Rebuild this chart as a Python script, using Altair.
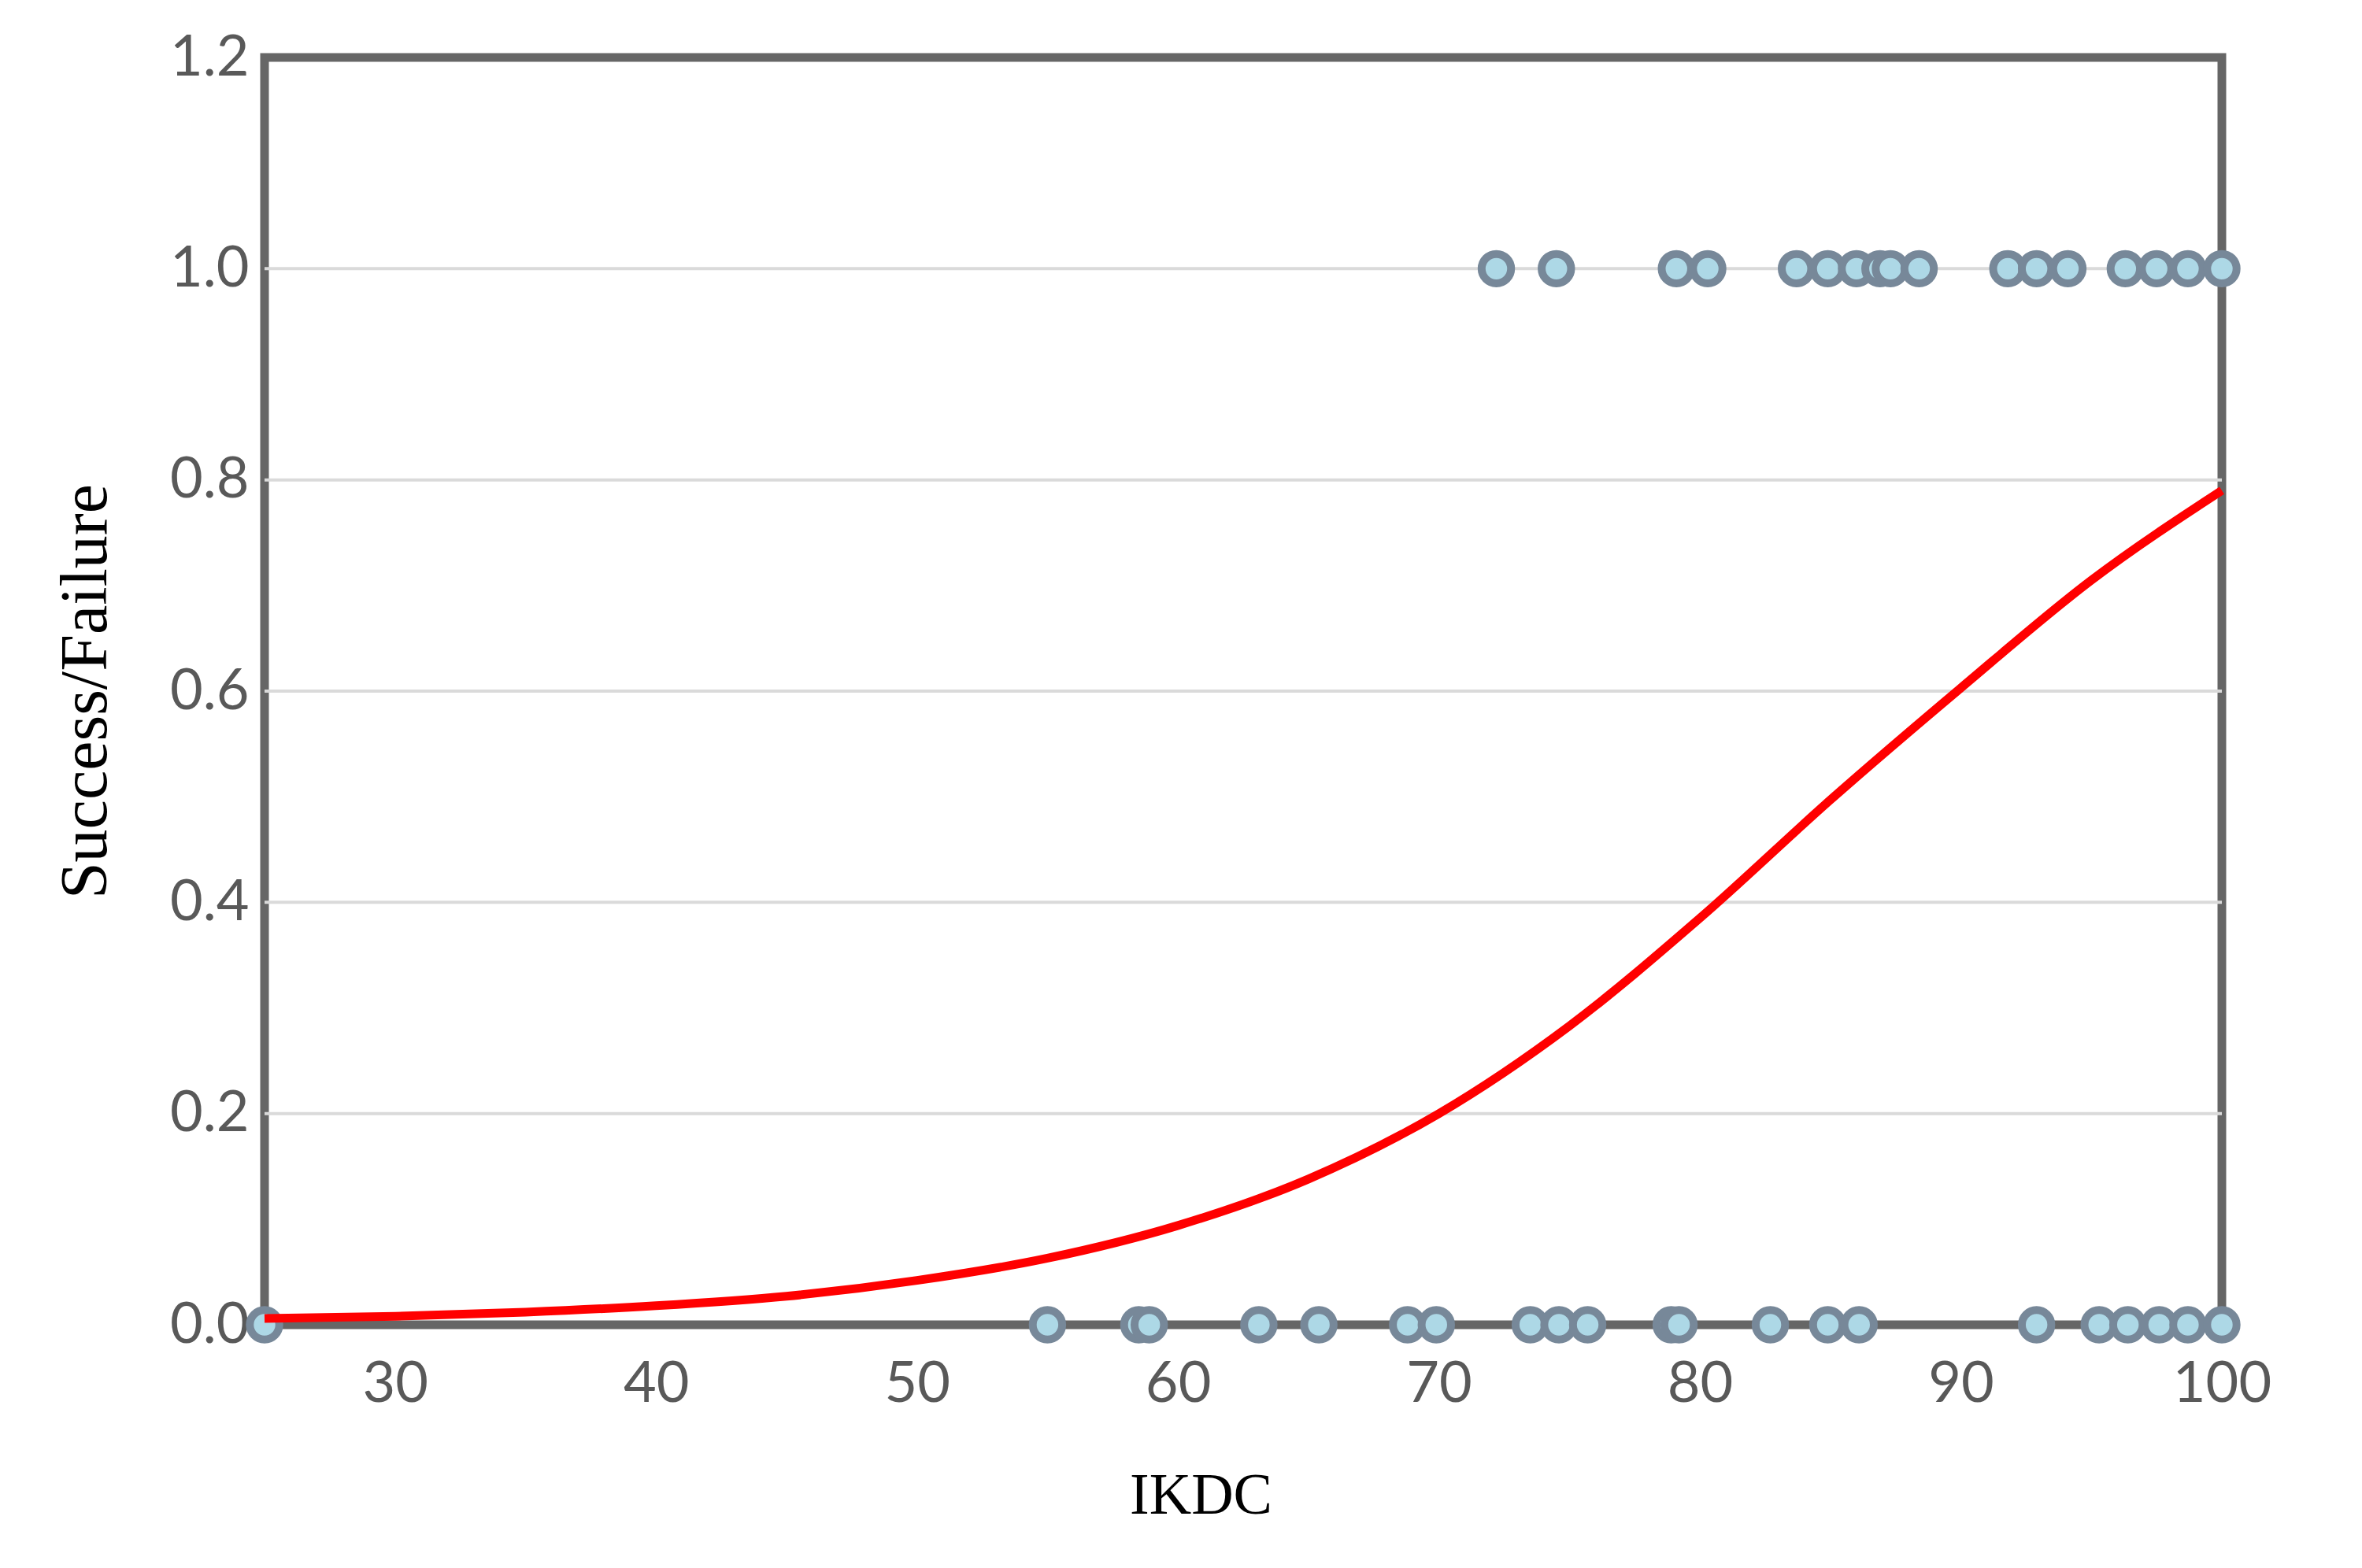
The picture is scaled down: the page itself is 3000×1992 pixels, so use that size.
import altair as alt
import pandas as pd

# Observed outcomes (IKDC score) — success = 1, failure = 0
x_success = [72.2, 74.5, 79.1, 80.3, 83.7, 84.9, 86.0, 86.9, 87.3, 88.4,
             91.8, 92.9, 94.1, 96.3, 97.5, 98.7, 100.0]
x_failure = [25.0, 55.0, 58.5, 58.9, 63.1, 65.4, 68.8, 69.9, 73.5, 74.6, 75.7,
             78.9, 79.2, 82.7, 84.9, 86.1, 92.9, 95.3, 96.4, 97.6, 98.7, 100.0]

# Fitted curve
curve_x = [25, 30, 35, 40, 45, 50, 55, 60, 65, 70, 75, 80, 85, 90, 95, 100]
curve_y = [0.006, 0.008, 0.012, 0.018, 0.027, 0.042, 0.063, 0.094, 0.138,
           0.200, 0.283, 0.385, 0.497, 0.603, 0.705, 0.790]

x_ticks = [30, 40, 50, 60, 70, 80, 90, 100]
y_ticks = [0.0, 0.2, 0.4, 0.6, 0.8, 1.0, 1.2]
grid_y = [0.2, 0.4, 0.6, 0.8, 1.0]

pts = pd.DataFrame({
    "IKDC": x_success + x_failure,
    "outcome": [1.0] * len(x_success) + [0.0] * len(x_failure),
})
curve = pd.DataFrame({"IKDC": curve_x, "p": curve_y})
grid = pd.DataFrame({"g": grid_y})

TICK_FONT = "Lato"
TITLE_FONT = "Liberation Serif"

x_scale = alt.Scale(domain=[25, 100], nice=False, zero=False)
y_scale = alt.Scale(domain=[0, 1.2], nice=False)

x_axis = alt.Axis(
    title="IKDC", values=x_ticks, grid=False, domain=False, ticks=False,
    labelFont=TICK_FONT, labelFontSize=72, labelColor="#595959", labelPadding=40,
    titleFont=TITLE_FONT, titleFontSize=74, titleFontWeight="normal", titleColor="#000000",
    titleX=1189, titleY=217, titleBaseline="middle", titleAlign="center",
    labelOverlap=False, labelFlush=False,
)
y_axis = alt.Axis(
    title="Success/Failure", values=y_ticks, format=".1f", grid=False,
    domain=False, ticks=False,
    labelFont=TICK_FONT, labelFontSize=72, labelColor="#595959", labelPadding=20,
    titleFont=TITLE_FONT, titleFontSize=84, titleFontWeight="normal", titleColor="#000000",
    titleX=-227, titleY=805, titleAngle=-90, titleBaseline="middle", titleAlign="center",
    labelOverlap=False,
)

gridlines = alt.Chart(grid).mark_rule(color="#dadada", strokeWidth=4).encode(
    y=alt.Y("g:Q", scale=y_scale, axis=y_axis),
)

points = alt.Chart(pts).mark_point(
    shape="circle", filled=True, fill="#add8e6", stroke="#778899",
    strokeWidth=10, size=1400, opacity=1,
).encode(
    x=alt.X("IKDC:Q", scale=x_scale, axis=x_axis),
    y=alt.Y("outcome:Q", scale=y_scale),
)

line = alt.Chart(curve).mark_line(
    color="#ff0000", strokeWidth=11, interpolate="monotone"
).encode(
    x=alt.X("IKDC:Q", scale=x_scale),
    y=alt.Y("p:Q", scale=y_scale),
)

chart = alt.layer(gridlines, points, line).properties(
    width=2486, height=1610,
    autosize=alt.AutoSizeParams(type="none"),
    padding={"left": 336, "top": 73, "right": 178, "bottom": 309},
    background="white",
).configure_view(stroke="#666666", strokeWidth=11)

chart.save("out.html", embed_options={"renderer": "svg", "actions": False})
